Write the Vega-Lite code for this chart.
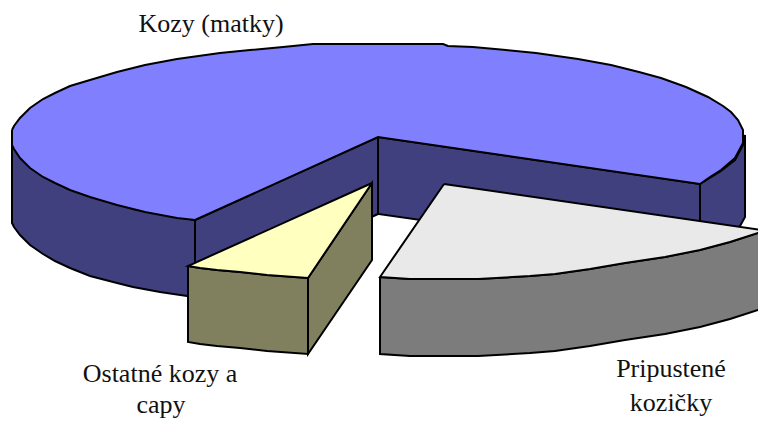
{"$schema":"https://vega.github.io/schema/vega-lite/v6.json","width":758,"height":421,"autosize":{"type":"fit","contains":"padding"},"padding":0,"background":"white","config":{"view":{"stroke":null}},
"layer":[
{"data":{"name":"shapes"},"mark":{"type":"line","stroke":"black","strokeWidth":2,"strokeJoin":"miter","clip":true,"interpolate":"linear"},
"encoding":{
"x":{"field":"x","type":"quantitative","scale":{"domain":[0,758],"nice":false,"zero":false},"axis":null},
"y":{"field":"y","type":"quantitative","scale":{"domain":[421,0],"nice":false,"zero":false},"axis":null},
"order":{"field":"i","type":"quantitative"},
"detail":{"field":"piece","type":"nominal"},
"fill":{"field":"piece","type":"nominal","legend":null,"scale":{"domain":["Kozy inner left","Kozy inner right","Kozy outer left","Kozy outer right","Kozy top","Pripustene front","Pripustene top","Ostatne side","Ostatne front","Ostatne top"],"range":["#40407f","#40407f","#40407f","#40407f","#8080ff","#7c7c7c","#e9e9e9","#80805f","#80805f","#ffffc0"]}}
}},
{"data":{"values":[
{"t":"Kozy (matky)","x":211,"y":32},
{"t":"Ostatné kozy a","x":160,"y":382},
{"t":"capy","x":161,"y":413},
{"t":"Pripustené","x":671,"y":377},
{"t":"kozičky","x":671,"y":411}]},
"mark":{"type":"text","font":"Liberation Serif","fontSize":26,"align":"center","baseline":"alphabetic","color":"#111111"},
"encoding":{
"x":{"field":"x","type":"quantitative","scale":{"domain":[0,758],"nice":false,"zero":false},"axis":null},
"y":{"field":"y","type":"quantitative","scale":{"domain":[421,0],"nice":false,"zero":false},"axis":null},
"text":{"field":"t","type":"nominal"}}}
],
"datasets":{"shapes":[
{"piece":"Kozy inner left","i":0,"x":195,"y":220},{"piece":"Kozy inner left","i":1,"x":378,"y":137},{"piece":"Kozy inner left","i":2,"x":378,"y":214},{"piece":"Kozy inner left","i":3,"x":195,"y":297},{"piece":"Kozy inner left","i":4,"x":195,"y":220},
{"piece":"Kozy inner right","i":0,"x":378,"y":137},{"piece":"Kozy inner right","i":1,"x":700,"y":184},{"piece":"Kozy inner right","i":2,"x":700,"y":260},{"piece":"Kozy inner right","i":3,"x":378,"y":214},{"piece":"Kozy inner right","i":4,"x":378,"y":137},
{"piece":"Kozy outer left","i":0,"x":12,"y":130},{"piece":"Kozy outer left","i":1,"x":12,"y":223},{"piece":"Kozy outer left","i":2,"x":14,"y":227},{"piece":"Kozy outer left","i":3,"x":20,"y":235},{"piece":"Kozy outer left","i":4,"x":30,"y":245},{"piece":"Kozy outer left","i":5,"x":43,"y":254},{"piece":"Kozy outer left","i":6,"x":55,"y":261},{"piece":"Kozy outer left","i":7,"x":70,"y":268},{"piece":"Kozy outer left","i":8,"x":90,"y":276},{"piece":"Kozy outer left","i":9,"x":117,"y":283},{"piece":"Kozy outer left","i":10,"x":133,"y":287},{"piece":"Kozy outer left","i":11,"x":160,"y":292},{"piece":"Kozy outer left","i":12,"x":187,"y":296},{"piece":"Kozy outer left","i":13,"x":195,"y":297},{"piece":"Kozy outer left","i":14,"x":195,"y":220},{"piece":"Kozy outer left","i":15,"x":133,"y":209},{"piece":"Kozy outer left","i":16,"x":12,"y":145},{"piece":"Kozy outer left","i":17,"x":12,"y":130},
{"piece":"Kozy outer right","i":0,"x":700,"y":184},{"piece":"Kozy outer right","i":1,"x":721,"y":171},{"piece":"Kozy outer right","i":2,"x":735,"y":160},{"piece":"Kozy outer right","i":3,"x":743,"y":145},{"piece":"Kozy outer right","i":4,"x":745,"y":135},{"piece":"Kozy outer right","i":5,"x":745,"y":217},{"piece":"Kozy outer right","i":6,"x":740,"y":226},{"piece":"Kozy outer right","i":7,"x":700,"y":260},{"piece":"Kozy outer right","i":8,"x":700,"y":184},
{"piece":"Kozy top","i":0,"x":12,"y":130},{"piece":"Kozy top","i":1,"x":14,"y":126},{"piece":"Kozy top","i":2,"x":20,"y":118},{"piece":"Kozy top","i":3,"x":30,"y":108},{"piece":"Kozy top","i":4,"x":43,"y":99},{"piece":"Kozy top","i":5,"x":55,"y":93},{"piece":"Kozy top","i":6,"x":70,"y":86},{"piece":"Kozy top","i":7,"x":90,"y":80},{"piece":"Kozy top","i":8,"x":117,"y":72},{"piece":"Kozy top","i":9,"x":145,"y":65},{"piece":"Kozy top","i":10,"x":177,"y":59},{"piece":"Kozy top","i":11,"x":220,"y":53},{"piece":"Kozy top","i":12,"x":250,"y":50},{"piece":"Kozy top","i":13,"x":283,"y":47},{"piece":"Kozy top","i":14,"x":313,"y":44},{"piece":"Kozy top","i":15,"x":443,"y":44},{"piece":"Kozy top","i":16,"x":448,"y":46},{"piece":"Kozy top","i":17,"x":473,"y":47},{"piece":"Kozy top","i":18,"x":506,"y":50},{"piece":"Kozy top","i":19,"x":536,"y":53},{"piece":"Kozy top","i":20,"x":578,"y":59},{"piece":"Kozy top","i":21,"x":611,"y":65},{"piece":"Kozy top","i":22,"x":639,"y":72},{"piece":"Kozy top","i":23,"x":661,"y":78},{"piece":"Kozy top","i":24,"x":686,"y":87},{"piece":"Kozy top","i":25,"x":708,"y":97},{"piece":"Kozy top","i":26,"x":723,"y":106},{"piece":"Kozy top","i":27,"x":731,"y":112},{"piece":"Kozy top","i":28,"x":738,"y":120},{"piece":"Kozy top","i":29,"x":743,"y":130},{"piece":"Kozy top","i":30,"x":743,"y":143},{"piece":"Kozy top","i":31,"x":735,"y":158},{"piece":"Kozy top","i":32,"x":721,"y":170},{"piece":"Kozy top","i":33,"x":710,"y":177},{"piece":"Kozy top","i":34,"x":700,"y":184},{"piece":"Kozy top","i":35,"x":378,"y":137},{"piece":"Kozy top","i":36,"x":195,"y":220},{"piece":"Kozy top","i":37,"x":177,"y":218},{"piece":"Kozy top","i":38,"x":145,"y":212},{"piece":"Kozy top","i":39,"x":133,"y":209},{"piece":"Kozy top","i":40,"x":117,"y":205},{"piece":"Kozy top","i":41,"x":90,"y":197},{"piece":"Kozy top","i":42,"x":70,"y":190},{"piece":"Kozy top","i":43,"x":55,"y":183},{"piece":"Kozy top","i":44,"x":43,"y":177},{"piece":"Kozy top","i":45,"x":30,"y":168},{"piece":"Kozy top","i":46,"x":20,"y":158},{"piece":"Kozy top","i":47,"x":14,"y":149},{"piece":"Kozy top","i":48,"x":12,"y":145},{"piece":"Kozy top","i":49,"x":12,"y":130},
{"piece":"Pripustene front","i":0,"x":380,"y":277},{"piece":"Pripustene front","i":1,"x":410,"y":279},{"piece":"Pripustene front","i":2,"x":478,"y":279},{"piece":"Pripustene front","i":3,"x":530,"y":276},{"piece":"Pripustene front","i":4,"x":555,"y":274},{"piece":"Pripustene front","i":5,"x":590,"y":269},{"piece":"Pripustene front","i":6,"x":625,"y":263},{"piece":"Pripustene front","i":7,"x":665,"y":257},{"piece":"Pripustene front","i":8,"x":700,"y":250},{"piece":"Pripustene front","i":9,"x":730,"y":242},{"piece":"Pripustene front","i":10,"x":758,"y":233},{"piece":"Pripustene front","i":11,"x":768,"y":230},{"piece":"Pripustene front","i":12,"x":768,"y":307},{"piece":"Pripustene front","i":13,"x":758,"y":310},{"piece":"Pripustene front","i":14,"x":730,"y":319},{"piece":"Pripustene front","i":15,"x":700,"y":327},{"piece":"Pripustene front","i":16,"x":665,"y":334},{"piece":"Pripustene front","i":17,"x":625,"y":340},{"piece":"Pripustene front","i":18,"x":590,"y":346},{"piece":"Pripustene front","i":19,"x":555,"y":351},{"piece":"Pripustene front","i":20,"x":530,"y":353},{"piece":"Pripustene front","i":21,"x":478,"y":356},{"piece":"Pripustene front","i":22,"x":410,"y":356},{"piece":"Pripustene front","i":23,"x":380,"y":354},{"piece":"Pripustene front","i":24,"x":380,"y":277},
{"piece":"Pripustene top","i":0,"x":444,"y":184},{"piece":"Pripustene top","i":1,"x":768,"y":231},{"piece":"Pripustene top","i":2,"x":758,"y":233},{"piece":"Pripustene top","i":3,"x":730,"y":242},{"piece":"Pripustene top","i":4,"x":700,"y":250},{"piece":"Pripustene top","i":5,"x":665,"y":257},{"piece":"Pripustene top","i":6,"x":625,"y":263},{"piece":"Pripustene top","i":7,"x":590,"y":269},{"piece":"Pripustene top","i":8,"x":555,"y":274},{"piece":"Pripustene top","i":9,"x":530,"y":276},{"piece":"Pripustene top","i":10,"x":478,"y":279},{"piece":"Pripustene top","i":11,"x":410,"y":279},{"piece":"Pripustene top","i":12,"x":380,"y":277},{"piece":"Pripustene top","i":13,"x":444,"y":184},
{"piece":"Ostatne side","i":0,"x":308,"y":278},{"piece":"Ostatne side","i":1,"x":372,"y":183},{"piece":"Ostatne side","i":2,"x":372,"y":260},{"piece":"Ostatne side","i":3,"x":308,"y":354},{"piece":"Ostatne side","i":4,"x":308,"y":278},
{"piece":"Ostatne front","i":0,"x":188,"y":266},{"piece":"Ostatne front","i":1,"x":200,"y":268},{"piece":"Ostatne front","i":2,"x":217,"y":270},{"piece":"Ostatne front","i":3,"x":240,"y":272},{"piece":"Ostatne front","i":4,"x":267,"y":275},{"piece":"Ostatne front","i":5,"x":308,"y":278},{"piece":"Ostatne front","i":6,"x":308,"y":354},{"piece":"Ostatne front","i":7,"x":267,"y":351},{"piece":"Ostatne front","i":8,"x":240,"y":348},{"piece":"Ostatne front","i":9,"x":217,"y":346},{"piece":"Ostatne front","i":10,"x":200,"y":344},{"piece":"Ostatne front","i":11,"x":188,"y":342},{"piece":"Ostatne front","i":12,"x":188,"y":266},
{"piece":"Ostatne top","i":0,"x":372,"y":183},{"piece":"Ostatne top","i":1,"x":308,"y":278},{"piece":"Ostatne top","i":2,"x":267,"y":275},{"piece":"Ostatne top","i":3,"x":240,"y":272},{"piece":"Ostatne top","i":4,"x":217,"y":270},{"piece":"Ostatne top","i":5,"x":200,"y":268},{"piece":"Ostatne top","i":6,"x":188,"y":266},{"piece":"Ostatne top","i":7,"x":372,"y":183}
]}}
